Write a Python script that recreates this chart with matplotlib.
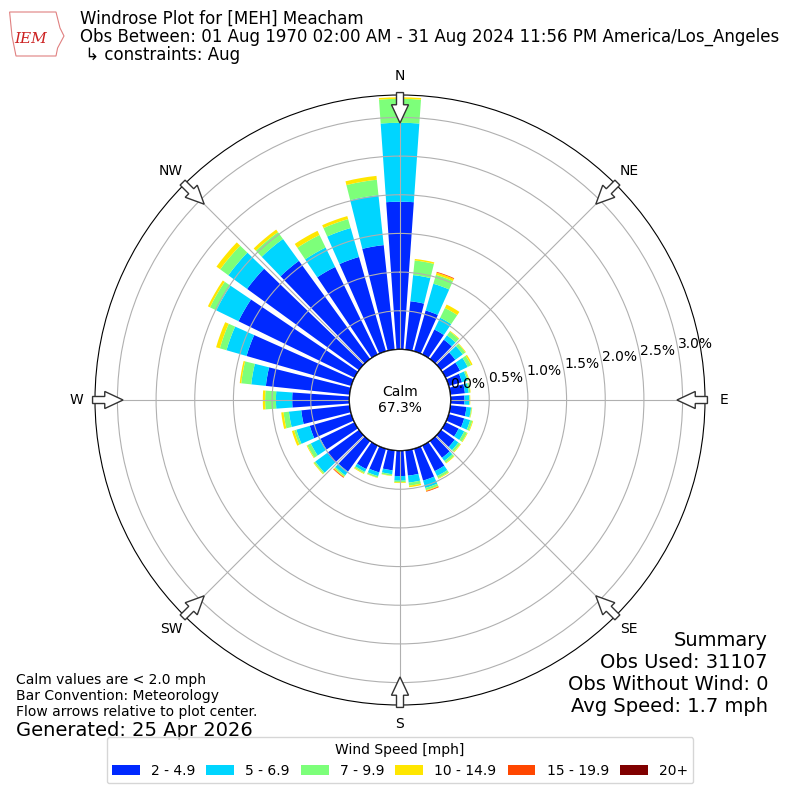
import numpy as np
import matplotlib
matplotlib.use('Agg')
import matplotlib.pyplot as plt
from matplotlib.patches import Circle, FancyArrow, Polygon

# direction bins (deg, meteorological, 10 deg wide)
directions = np.arange(0, 360, 10)

spd_2_5 = [1.91, 0.63, 0.55, 0.36, 0.31, 0.23, 0.21, 0.18, 0.19, 0.18, 0.21, 0.21,
           0.19, 0.22, 0.27, 0.37, 0.43, 0.33, 0.33, 0.26, 0.32, 0.34, 0.49, 0.51,
           0.49, 0.56, 0.63, 0.74, 1.09, 1.41, 1.67, 1.79, 1.57, 1.26, 1.27, 1.36]
spd_5_7 = [1.02, 0.34, 0.36, 0.17, 0.07, 0.12, 0.11, 0.07, 0.05, 0.06, 0.06, 0.08,
           0.08, 0.06, 0.05, 0.07, 0.10, 0.09, 0.06, 0.05, 0.05, 0.04, 0.06, 0.19,
           0.14, 0.18, 0.16, 0.21, 0.19, 0.27, 0.32, 0.30, 0.35, 0.28, 0.39, 0.65]
spd_7_10 = [0.31, 0.19, 0.12, 0.14, 0.06, 0.04, 0.05, 0.02, 0.02, 0.01, 0.01, 0.03,
            0.04, 0.03, 0.03, 0.03, 0.03, 0.04, 0.02, 0.02, 0.02, 0.02, 0.02, 0.02,
            0.05, 0.03, 0.07, 0.14, 0.13, 0.09, 0.09, 0.13, 0.11, 0.18, 0.12, 0.20]
spd_10_15 = [0.02, 0.02, 0.03, 0.05, 0.01, 0.01, 0.02, 0.01, 0.005, 0.005, 0.005, 0.01,
             0.01, 0.01, 0.01, 0.01, 0.01, 0.02, 0.01, 0.005, 0.005, 0.01, 0.01, 0.01,
             0.01, 0.03, 0.03, 0.03, 0.02, 0.05, 0.03, 0.06, 0.04, 0.06, 0.04, 0.05]
spd_15_20 = [0.0, 0.0, 0.01, 0.0, 0.0, 0.0, 0.0, 0.0, 0.0, 0.0, 0.0, 0.0,
             0.0, 0.0, 0.0, 0.0, 0.01, 0.0, 0.0, 0.0, 0.0, 0.0, 0.01, 0.0,
             0.0, 0.0, 0.0, 0.0, 0.0, 0.0, 0.0, 0.0, 0.0, 0.0, 0.0, 0.0]
spd_20 = [0.0] * 36

bins = [spd_2_5, spd_5_7, spd_7_10, spd_10_15, spd_15_20, spd_20]
bin_labels = ['2 - 4.9', '5 - 6.9', '7 - 9.9', '10 - 14.9', '15 - 19.9', '20+']
colors = plt.get_cmap('jet')(np.linspace(0, 1, 7)[1:])

rticks = [0.0, 0.5, 1.0, 1.5, 2.0, 2.5, 3.0]
compass = ['N', 'NE', 'E', 'SE', 'S', 'SW', 'W', 'NW']
calm_pct = 67.3

fig = plt.figure(figsize=(8, 8), dpi=100)
ax = fig.add_axes([0.11875, 0.11875, 0.7625, 0.7625], projection='polar')
ax.set_theta_zero_location('N')
ax.set_theta_direction(-1)

theta = np.deg2rad(directions)
base = np.zeros(36)
for vals, c, lab in zip(bins, colors, bin_labels):
    vals = np.array(vals)
    ax.bar(theta, vals, width=np.deg2rad(8), bottom=base, color=c, label=lab,
           linewidth=0)
    base = base + vals

ax.set_rorigin(-0.654)
ax.set_ylim(0, 3.29)
ax.set_yticks(rticks)
ax.set_yticklabels(['%.1f%%' % t for t in rticks])
ax.set_rlabel_position(80)
ax.set_xticks(np.deg2rad(np.arange(0, 360, 45)))
ax.set_xticklabels(compass)
ax.tick_params(axis='x', pad=3)
ax.grid(True, color='#b0b0b0', lw=0.8)

# calm circle in the middle
ax.add_patch(Circle((0.5, 0.5), 0.083, transform=ax.transAxes, fc='white',
                    ec='black', lw=1, zorder=3))
ax.text(0.5, 0.5, 'Calm\n%.1f%%' % calm_pct, transform=ax.transAxes,
        ha='center', va='center', fontsize=10, zorder=4)

# flow arrows at the compass points
r0, r1 = 0.504, 0.454
for d in range(0, 360, 45):
    s, c = np.sin(np.deg2rad(d)), np.cos(np.deg2rad(d))
    ax.add_patch(FancyArrow(0.5 + r0 * s, 0.5 + r0 * c, -(r0 - r1) * s, -(r0 - r1) * c,
                            width=0.0115, head_width=0.028, head_length=0.03,
                            length_includes_head=True, fc='white', ec='#333333',
                            lw=1, transform=ax.transAxes, clip_on=False, zorder=5))

# header
fig.patches.append(Polygon([(0.012, 0.985), (0.07, 0.985), (0.075, 0.965), (0.08, 0.955),
                            (0.072, 0.94), (0.07, 0.93), (0.02, 0.93), (0.015, 0.955)],
                           closed=True, fill=False, ec='#e08080', lw=0.8,
                           transform=fig.transFigure))
fig.text(0.038, 0.951, 'IEM', color='#cc2020', fontsize=11, style='italic',
         family='DejaVu Serif', ha='center', va='center')
fig.text(0.1, 1 - 19 / 800, 'Windrose Plot for [MEH] Meacham', fontsize=12, va='center')
fig.text(0.1, 1 - 37 / 800,
         'Obs Between: 01 Aug 1970 02:00 AM - 31 Aug 2024 11:56 PM America/Los_Angeles',
         fontsize=12, va='center')
fig.text(0.1, 1 - 55 / 800, ' \u21b3 constraints: Aug', fontsize=12, va='center')

# footer notes
fig.text(0.02, 1 - 680 / 800, 'Calm values are < 2.0 mph', fontsize=10, va='center')
fig.text(0.02, 1 - 696 / 800, 'Bar Convention: Meteorology', fontsize=10, va='center')
fig.text(0.02, 1 - 712 / 800, 'Flow arrows relative to plot center.', fontsize=10, va='center')
fig.text(0.02, 1 - 730 / 800, 'Generated: 25 Apr 2026', fontsize=14, va='center')

summary = ['Summary', 'Obs Used: 31107', 'Obs Without Wind: 0', 'Avg Speed: 1.7 mph']
for i, s in enumerate(summary):
    fig.text(0.96, 1 - (640 + 22 * i) / 800, s, fontsize=14, ha='right', va='center')

fig.legend(loc='lower center', bbox_to_anchor=(0.5, 0.012), ncol=6,
           title='Wind Speed [mph]', fontsize=10, title_fontsize=10,
           columnspacing=0.8)

fig.savefig('out.png', dpi=100)
